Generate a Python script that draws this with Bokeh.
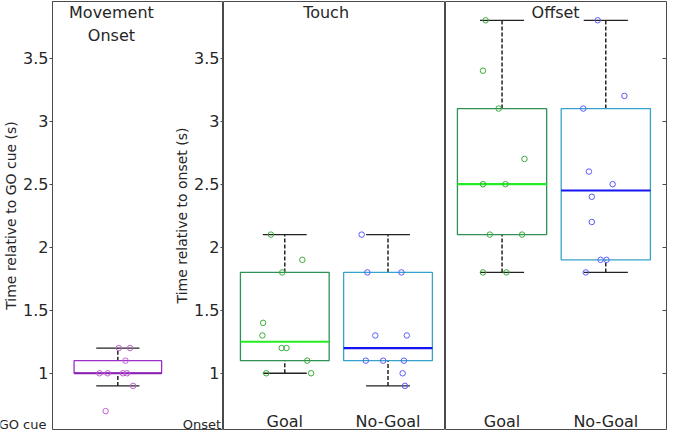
from bokeh.plotting import figure
from bokeh.models import Range1d, LinearAxis, FixedTicker, Label, ColumnDataSource
from bokeh.layouts import row
from bokeh.embed import file_html
from bokeh.resources import INLINE

# ---------------- data ----------------
yticks = [1, 1.5, 2, 2.5, 3, 3.5]
ytick_labels = ["1", "1.5", "2", "2.5", "3", "3.5"]
groups = ["Goal", "No-Goal"]

# Movement onset (relative to GO cue)
onset_vals = [1.2, 1.2, 1.1, 1.0, 1.0, 1.0, 1.0, 0.9, 0.7]
onset_jit = [0.01, 0.12, 0.075, -0.18, -0.10, 0.05, 0.09, 0.15, -0.12]
onset_stats = dict(q1=[1.0], med=[1.0], q3=[1.1], lo=[0.9], hi=[1.2])

# Touch (relative to onset)
touch_goal_vals = [2.1, 1.9, 1.8, 1.4, 1.3, 1.2, 1.2, 1.1, 1.0, 1.0]
touch_goal_jit = [-0.135, 0.17, -0.025, -0.21, -0.217, -0.03, 0.016, 0.217, -0.18, 0.255]
touch_nogoal_vals = [2.1, 1.8, 1.8, 1.3, 1.3, 1.1, 1.1, 1.1, 1.0, 0.9]
touch_nogoal_jit = [-0.255, -0.2, 0.13, -0.123, 0.182, -0.215, -0.047, 0.154, 0.142, 0.164]
touch_stats = dict(q1=[1.1, 1.1], med=[1.25, 1.2], q3=[1.8, 1.8], lo=[1.0, 0.9], hi=[2.1, 2.1])

# Offset (relative to onset)
offset_goal_vals = [3.8, 3.4, 3.1, 2.7, 2.5, 2.5, 2.1, 2.1, 1.8, 1.8]
offset_goal_jit = [-0.158, -0.184, -0.033, 0.216, -0.184, 0.033, -0.118, 0.193, -0.184, 0.042]
offset_nogoal_vals = [3.8, 3.2, 3.1, 2.6, 2.5, 2.4, 2.2, 1.9, 1.9, 1.8]
offset_nogoal_jit = [-0.078, 0.179, -0.217, -0.163, 0.066, -0.135, -0.135, -0.05, 0.007, -0.193]
offset_stats = dict(q1=[2.1, 1.9], med=[2.5, 2.45], q3=[3.1, 3.1], lo=[1.8, 1.8], hi=[3.8, 3.8])

# ---------------- styles ----------------
FONT = "DejaVu Sans"
TXT = "#262626"
FRAME = "#4a4a4a"
BOX_W = 0.86
CAP_W = 0.425
onset_style = dict(edge="#9b2fc9", med="#8a1fb5", dot="#c060d0")
goal_style = dict(edge="#2e9155", med="#22ee22", dot="#3cab3c")
nogoal_style = dict(edge="#36a3cc", med="#1414f0", dot="#5a5aff")

Y0, Y1 = 0.554, 3.949
H = 431
NOFLEX = {"flex": "0 0 auto"}


def make_fig(width, xr, left, right, outline=True):
    p = figure(width=width, height=H, x_range=Range1d(*xr), y_range=Range1d(Y0, Y1),
               output_backend="svg", toolbar_location=None,
               x_axis_location=None, y_axis_location=None,
               min_border_left=left, min_border_right=right,
               min_border_top=1, min_border_bottom=2, styles=NOFLEX)
    p.grid.visible = False
    p.outline_line_color = FRAME if outline else None
    p.outline_line_width = 1
    p.background_fill_color = "white"
    return p


def y_axis(p, label, loc, show_labels=True):
    ax = LinearAxis(ticker=FixedTicker(ticks=yticks))
    ax.minor_tick_line_color = None
    ax.axis_line_color = FRAME
    ax.major_tick_line_color = FRAME
    ax.major_label_text_font = FONT
    ax.major_label_text_color = TXT
    if show_labels:
        ax.major_label_overrides = {float(t): s for t, s in zip(yticks, ytick_labels)}
        ax.major_label_standoff = 1
        ax.major_tick_out = 3
        ax.major_tick_in = 0
        ax.major_label_text_font_size = "16px"
        ax.axis_label = label
        ax.axis_label_text_font = FONT
        ax.axis_label_text_font_size = "14px"
        ax.axis_label_text_font_style = "normal"
        ax.axis_label_text_color = TXT
        ax.axis_label_standoff = 1
    else:
        ax.major_label_overrides = {float(t): "" for t in yticks}
        ax.major_tick_out = 0
        ax.major_tick_in = 4
        ax.major_label_standoff = 0
        ax.axis_line_color = None
    p.add_layout(ax, loc)
    return ax


def draw_boxes(p, xs, stats, styles):
    src = ColumnDataSource(dict(
        x=xs,
        left=[x - BOX_W / 2 for x in xs], right=[x + BOX_W / 2 for x in xs],
        cl=[x - CAP_W / 2 for x in xs], cr=[x + CAP_W / 2 for x in xs],
        q1=stats["q1"], med=stats["med"], q3=stats["q3"],
        lo=stats["lo"], hi=stats["hi"],
        edge=[s["edge"] for s in styles], medc=[s["med"] for s in styles],
    ))
    p.segment(x0="x", y0="q3", x1="x", y1="hi", source=src, line_color="black",
              line_width=1.3, line_dash="4 2")
    p.segment(x0="x", y0="lo", x1="x", y1="q1", source=src, line_color="black",
              line_width=1.3, line_dash="4 2")
    p.segment(x0="cl", y0="hi", x1="cr", y1="hi", source=src, line_color="#222222", line_width=1.3)
    p.segment(x0="cl", y0="lo", x1="cr", y1="lo", source=src, line_color="#222222", line_width=1.3)
    p.quad(left="left", right="right", bottom="q1", top="q3", source=src,
           fill_color=None, line_color="edge", line_width=1.3)
    p.segment(x0="left", y0="med", x1="right", y1="med", source=src,
              line_color="medc", line_width=2.2)


def draw_points(p, x, vals, jit, color):
    src = ColumnDataSource(dict(x=[x + j for j in jit], y=vals))
    p.scatter(x="x", y="y", source=src, marker="circle", size=5.5,
              fill_color=None, line_color=color, line_width=1)


def add_text(p, x, y, text, size, align="center", baseline="top"):
    p.add_layout(Label(x=x, y=y, text=text, text_font=FONT, text_font_size=size,
                       text_color=TXT, text_align=align, text_baseline=baseline))


# ---------------- strip under the first axis (holds the "GO cue" mark) ----------------
p0 = make_fig(49, (0, 49), 0, 0, outline=False)
p0.border_fill_color = "white"
add_text(p0, 46, 0.59, "GO cue", "13px", align="right", baseline="alphabetic")

# ---------------- panel 1: Movement onset ----------------
p1 = make_fig(223, (0.358, 2.038), 49, 0)
p1.border_fill_color = None
p1.margin = (0, 0, 0, -49)
y_axis(p1, "Time relative to GO cue (s)", "left")
draw_boxes(p1, [1], onset_stats, [onset_style])
draw_points(p1, 1, onset_vals, onset_jit, onset_style["dot"])
add_text(p1, 0.937, 3.935, "Movement\nOnset", "16px")
add_text(p1, 2.015, 0.59, "Onset", "13px", align="right", baseline="alphabetic")

# ---------------- panel 2: Touch ----------------
p2 = make_fig(282, (0.406, 2.557), 60, 0)
p2.border_fill_color = None
p2.margin = (0, 0, 0, -60)
y_axis(p2, "Time relative to onset (s)", "left")
draw_boxes(p2, [1, 2], touch_stats, [goal_style, nogoal_style])
draw_points(p2, 1, touch_goal_vals, touch_goal_jit, goal_style["dot"])
draw_points(p2, 2, touch_nogoal_vals, touch_nogoal_jit, nogoal_style["dot"])
add_text(p2, 1.40, 3.935, "Touch", "16px")
for i, g in enumerate(groups):
    add_text(p2, i + 1, 0.615, g, "16px", baseline="alphabetic")

# ---------------- panel 3: Offset ----------------
p3 = make_fig(222, (0.455, 2.585), 0, 1)
y_axis(p3, "", "right", show_labels=False)
draw_boxes(p3, [1, 2], offset_stats, [goal_style, nogoal_style])
draw_points(p3, 1, offset_goal_vals, offset_goal_jit, goal_style["dot"])
draw_points(p3, 2, offset_nogoal_vals, offset_nogoal_jit, nogoal_style["dot"])
add_text(p3, 1.516, 3.94, "Offset", "16px")
for i, g in enumerate(groups):
    add_text(p3, i + 1, 0.615, g, "16px", baseline="alphabetic")

layout = row(p0, p1, p2, p3, spacing=0)
open("out.html", "w").write(file_html(layout, INLINE))
